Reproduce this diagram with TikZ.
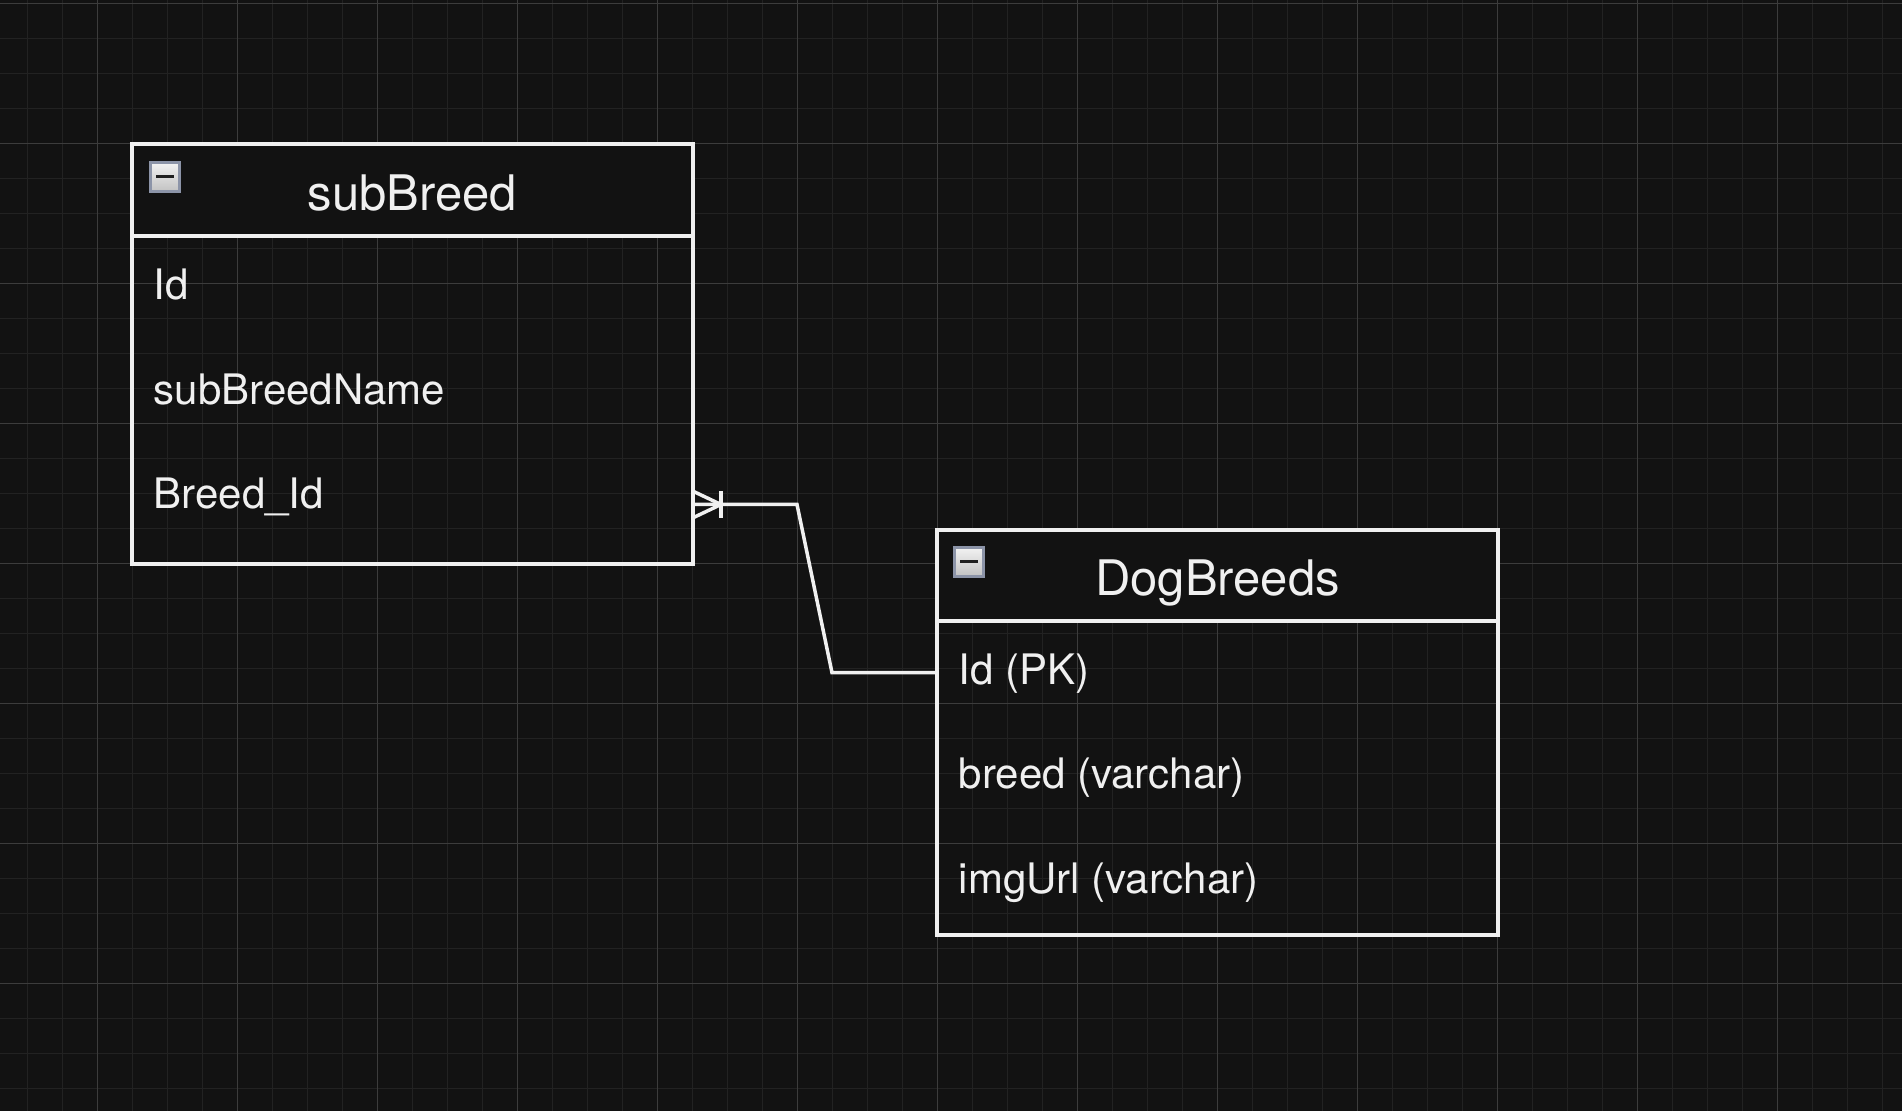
\documentclass[tikz,border=0pt]{standalone}
\usepackage{fontspec}
\setmainfont{TeX Gyre Heros}
\usetikzlibrary{positioning}

\definecolor{canvas}{HTML}{121212}
\definecolor{gridfine}{HTML}{222222}
\definecolor{gridbold}{HTML}{3C3C3C}
\definecolor{edge}{HTML}{F0F0F0}
\definecolor{togglerim}{HTML}{8C94A8}

\tikzset{
  minorgrid/.style={gridfine, line width=0.15mm},
  majorgrid/.style={gridbold, line width=0.15mm},
  tablehead/.style={draw=edge, fill=canvas, line width=0.35mm, outer sep=0pt, inner sep=0pt,
    minimum width=56.1mm, text=edge, font=\fontsize{13.94}{16}\selectfont,
    text height=4.1mm, text depth=0pt},
  tablebody/.style={draw=edge, line width=0.35mm, outer sep=0pt, inner sep=0pt, minimum width=56.1mm},
  field/.style={anchor=base west, inner sep=0pt, text=edge, font=\fontsize{11.95}{14}\selectfont},
  toggle/.style={draw=togglerim, line width=0.3mm, minimum size=2.9mm, inner sep=0pt,
    top color=white!95!black, bottom color=white!76!black,
    path picture={\draw[line width=0.3mm, black!88]
      ([xshift=-0.9mm]path picture bounding box.center) -- ([xshift=0.9mm]path picture bounding box.center);}},
  erline/.style={draw=edge, line width=0.35mm, line join=miter},
}

\begin{document}
\begin{tikzpicture}[x=0.1mm, y=-0.1mm]
  % canvas and grid
  \fill[canvas] (0,0) rectangle (1902,1111);
  \useasboundingbox (0,0) rectangle (1902,1111);
  \foreach \gx in {0,...,53} \draw[minorgrid] ({27.3+35*\gx},0) -- ({27.3+35*\gx},1111);
  \foreach \gy in {0,...,31} \draw[minorgrid] (0,{3.3+35*\gy}) -- (1902,{3.3+35*\gy});
  \foreach \gx in {0,...,12} \draw[majorgrid] ({97.3+140*\gx},0) -- ({97.3+140*\gx},1111);
  \foreach \gy in {0,...,7} \draw[majorgrid] (0,{3.3+140*\gy}) -- (1902,{3.3+140*\gy});

  % subBreed table
  \node[tablehead, minimum height=9.2mm] (sbHead) at (412.5,190) {subBreed};
  \node[tablebody, minimum height=32.8mm, below=0pt of sbHead] (sbBody) {};
  \node[toggle] (sbToggle) at (165,177) {};
  \node[field] (sbId) at (153,300) {Id};
  \node[field] (sbName) at (153,404.5) {subBreedName};
  \node[field] (sbBreedId) at (153,509) {Breed\_Id};

  % DogBreeds table
  \node[tablehead, minimum height=9.1mm] (dbHead) at (1217.5,575.5) {DogBreeds};
  \node[tablebody, minimum height=31.4mm, below=0pt of dbHead] (dbBody) {};
  \node[toggle] (dbToggle) at (969,562) {};
  \node[field] (dbId) at (958,684.3) {Id (PK)};
  \node[field] (dbBreed) at (958,788.8) {breed (varchar)};
  \node[field] (dbImg) at (958,893.3) {imgUrl (varchar)};

  % relation, many side at subBreed
  \coordinate (fkEnd) at ([shift={(0,104.5)}]sbBody.east);
  \coordinate (pkEnd) at ([shift={(0,-105.3)}]dbBody.west);
  \coordinate (bendA) at ([shift={(104,0)}]fkEnd);
  \coordinate (bendB) at ([shift={(-105,0)}]pkEnd);
  \draw[erline] (fkEnd) -- (bendA) -- (bendB) -- (pkEnd);
  \draw[erline] ([shift={(0,-13.3)}]fkEnd) -- ([shift={(28,0)}]fkEnd) -- ([shift={(0,13.3)}]fkEnd);
  \draw[erline] ([shift={(28,-13.3)}]fkEnd) -- ([shift={(28,13.3)}]fkEnd);
\end{tikzpicture}
\end{document}
